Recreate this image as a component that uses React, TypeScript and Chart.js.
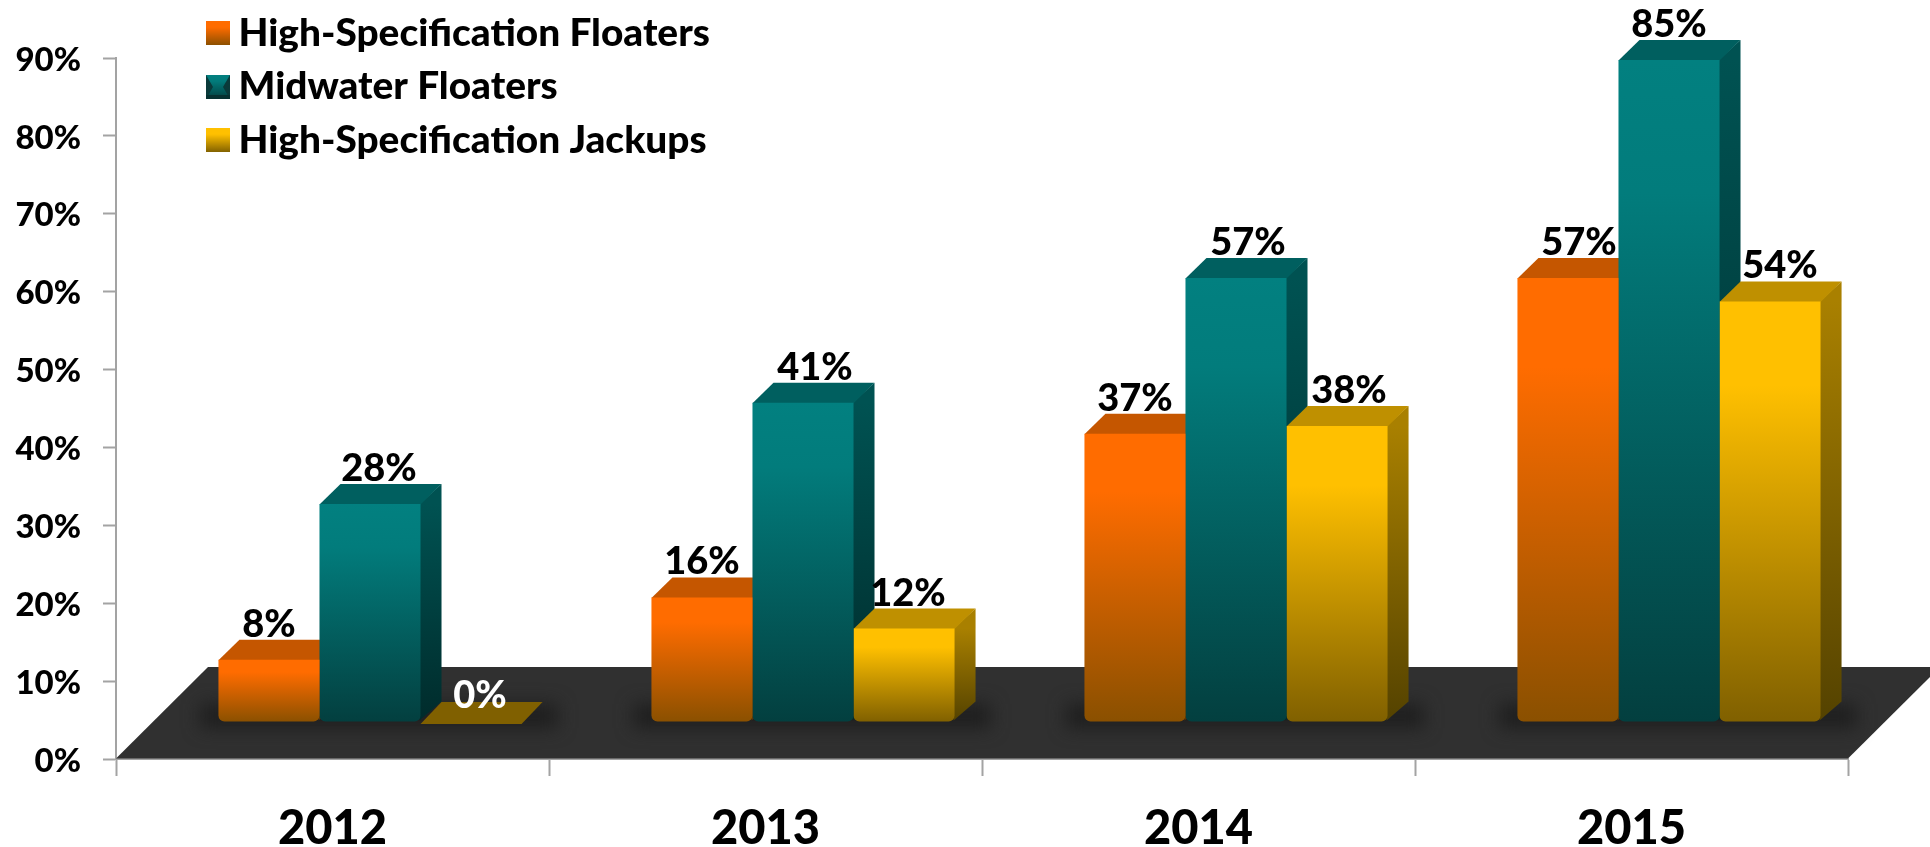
import React, { useEffect, useRef } from "react";
import { Chart, registerables } from "chart.js";

Chart.register(...registerables);

const years = ["2012", "2013", "2014", "2015"];
const highSpecFloaters = [8, 16, 37, 57];
const midwaterFloaters = [28, 41, 57, 85];
const highSpecJackups = [0, 12, 38, 54];
const seriesNames = ["High-Specification Floaters", "Midwater Floaters", "High-Specification Jackups"];
const yTicks = [0, 10, 20, 30, 40, 50, 60, 70, 80, 90];

// style tables
const FONT = "Lato, Carlito, Calibri, sans-serif";
const WEIGHT = 900;
const frontStops = [
  ["#FF6C00", "#FF6C00", "#8A5000"],
  ["#028080", "#027C7C", "#033F3F"],
  ["#FFC000", "#FFC000", "#806000"],
];
const topColors = ["#C55600", "#005F5F", "#BF9000"];
const sideStops = [
  ["#B04E00", "#5F3500"],
  ["#005252", "#002B2B"],
  ["#A98000", "#544200"],
];
const labelNudge = [
  [0, 0, 0, 11],
  [9, 12, 12, 0],
  [9, 4, 12, 10],
];
const BAR_SHIFT_X = 37.5;
const BAR_SHIFT_Y = -37;
const DEPTH_X = 21;
const DEPTH_Y = 20;
const FLOOR_DEPTH = 92;

function swatch(i: number) {
  const c = document.createElement("canvas");
  c.width = 24;
  c.height = 24;
  const g = c.getContext("2d")!;
  const lin = g.createLinearGradient(0, 0, 0, 24);
  lin.addColorStop(0, frontStops[i][0]);
  lin.addColorStop(0.25, frontStops[i][1]);
  lin.addColorStop(1, frontStops[i][2]);
  g.fillStyle = lin;
  g.fillRect(0, 0, 24, 24);
  if (i === 1) {
    g.fillStyle = "#0A3A3A";
    g.beginPath();
    g.moveTo(0, 0);
    g.lineTo(7, 12);
    g.lineTo(0, 24);
    g.closePath();
    g.moveTo(24, 0);
    g.lineTo(17, 12);
    g.lineTo(24, 24);
    g.closePath();
    g.fill();
    g.fillStyle = "#063030";
    g.fillRect(0, 20, 24, 4);
  }
  return c;
}

const floorAndFaces = {
  id: "floorAndFaces",
  beforeDatasetsDraw(chart: any) {
    const { ctx, scales } = chart;
    const x = scales.x;
    const yz = scales.y.getPixelForValue(0);
    ctx.save();
    ctx.fillStyle = "#303030";
    ctx.beginPath();
    ctx.moveTo(x.left, yz - 0.5);
    ctx.lineTo(x.left + FLOOR_DEPTH, yz - FLOOR_DEPTH);
    ctx.lineTo(x.right + FLOOR_DEPTH, yz - FLOOR_DEPTH);
    ctx.lineTo(x.right, yz - 0.5);
    ctx.closePath();
    ctx.fill();
    // soft shadows under each group
    const first = chart.getDatasetMeta(0).data;
    const last = chart.getDatasetMeta(2).data;
    ctx.filter = "blur(9px)";
    ctx.fillStyle = "#1E1E1E";
    first.forEach((el: any, i: number) => {
      const l = el.x - el.width / 2 + BAR_SHIFT_X - 18;
      const r = last[i].x + last[i].width / 2 + BAR_SHIFT_X + 36;
      ctx.fillRect(l, yz + BAR_SHIFT_Y - 18, r - l, 24);
    });
    ctx.filter = "none";
    // side and top faces, painted left to right so each bar overlaps its left neighbour
    ctx.translate(BAR_SHIFT_X, BAR_SHIFT_Y);
    chart.data.datasets.forEach((ds: any, s: number) => {
      chart.getDatasetMeta(s).data.forEach((el: any, i: number) => {
        const v = ds.data[i];
        const x0 = el.x - el.width / 2;
        const x1 = el.x + el.width / 2;
        const yt = el.y;
        const yb = el.base;
        if (v > 0) {
          const g = ctx.createLinearGradient(0, yt, 0, yb);
          g.addColorStop(0, sideStops[s][0]);
          g.addColorStop(1, sideStops[s][1]);
          ctx.fillStyle = g;
          ctx.beginPath();
          ctx.moveTo(x1 - 1, yt);
          ctx.lineTo(x1 + DEPTH_X, yt - DEPTH_Y);
          ctx.lineTo(x1 + DEPTH_X, yb - DEPTH_Y);
          ctx.lineTo(x1 - 1, yb - 1);
          ctx.closePath();
          ctx.fill();
        }
        ctx.fillStyle = v > 0 ? topColors[s] : frontStops[s][2];
        ctx.beginPath();
        ctx.moveTo(x0, yt + (v > 0 ? 0.5 : 2));
        ctx.lineTo(x0 + DEPTH_X, yt - DEPTH_Y);
        ctx.lineTo(x1 + DEPTH_X, yt - DEPTH_Y);
        ctx.lineTo(x1, yt + (v > 0 ? 0.5 : 2));
        ctx.closePath();
        ctx.fill();
      });
    });
    ctx.restore();
  },
  beforeDatasetDraw(chart: any) {
    chart.ctx.save();
    chart.ctx.translate(BAR_SHIFT_X, BAR_SHIFT_Y);
  },
  afterDatasetDraw(chart: any) {
    chart.ctx.restore();
  },
  afterDatasetsDraw(chart: any) {
    const { ctx } = chart;
    ctx.save();
    ctx.font = `${WEIGHT} 38px ${FONT}`;
    ctx.textAlign = "center";
    ctx.textBaseline = "alphabetic";
    chart.data.datasets.forEach((ds: any, s: number) => {
      chart.getDatasetMeta(s).data.forEach((el: any, i: number) => {
        const v = ds.data[i];
        ctx.fillStyle = v === 0 ? "#FFFFFF" : "#000000";
        ctx.fillText(
          `${v}%`,
          el.x + BAR_SHIFT_X + labelNudge[s][i],
          el.y + BAR_SHIFT_Y - DEPTH_Y - (v === 0 ? -6 : 3)
        );
      });
    });
    ctx.restore();
  },
  afterLayout(chart: any) {
    const lg = chart.legend;
    lg.left = 216.9 - lg.options.labels.padding;
    lg.top = 14 - lg.options.labels.padding;
  },
};

export default function App() {
  const ref = useRef<HTMLCanvasElement | null>(null);
  useEffect(() => {
    const swatches = [swatch(0), swatch(1), swatch(2)];
    const barFill = (s: number) => (c: any) => {
      const chart = c.chart;
      const y = chart.scales.y;
      if (!y || c.raw === undefined) return frontStops[s][0];
      const top = y.getPixelForValue(c.raw);
      const bot = y.getPixelForValue(0);
      if (bot - top < 1) return frontStops[s][2];
      const g = chart.ctx.createLinearGradient(0, top, 0, bot);
      g.addColorStop(0, frontStops[s][0]);
      g.addColorStop(0.2, frontStops[s][1]);
      g.addColorStop(1, frontStops[s][2]);
      return g;
    };
    const series = [highSpecFloaters, midwaterFloaters, highSpecJackups];
    const chart = new Chart(ref.current!, {
      type: "bar",
      data: {
        labels: years,
        datasets: series.map((data, s) => ({
          label: seriesNames[s],
          data,
          clip: false as any,
          backgroundColor: barFill(s),
          borderWidth: 0,
          borderSkipped: false,
          borderRadius: { topLeft: 0, topRight: 0, bottomLeft: 6, bottomRight: 6 },
          barPercentage: 1,
          categoryPercentage: 0.7,
        })),
      },
      options: {
        responsive: false,
        animation: false,
        layout: { padding: { top: 58, right: 82, left: 0, bottom: 0 } },
        plugins: {
          tooltip: { enabled: false },
          title: { display: false },
          legend: {
            position: "chartArea",
            align: "start",
            labels: {
              usePointStyle: true,
              pointStyleWidth: 2.2,
              padding: 14.7,
              color: "#000000",
              font: { family: FONT, size: 38.8, weight: WEIGHT },
              generateLabels: () =>
                seriesNames.map((text, i) => ({
                  text,
                  pointStyle: swatches[i],
                  datasetIndex: i,
                  fontColor: "#000000",
                  lineWidth: 0,
                })),
            },
          },
        },
        scales: {
          x: {
            type: "category",
            offset: true,
            afterFit: (a: any) => {
              a.height = 847 - 759;
            },
            border: { color: "#A3A3A3", width: 2 },
            grid: {
              offset: true,
              drawOnChartArea: false,
              drawTicks: true,
              tickLength: 17,
              tickWidth: 2,
              tickColor: "#A3A3A3",
            },
            ticks: {
              color: "#000000",
              padding: 25,
              maxRotation: 0,
              font: { family: FONT, size: 47, weight: WEIGHT },
            },
          },
          y: {
            min: 0,
            max: 90,
            afterFit: (a: any) => {
              a.width = 116;
            },
            afterBuildTicks: (a: any) => {
              a.ticks = yTicks.map((value) => ({ value }));
            },
            border: { color: "#A3A3A3", width: 2 },
            grid: {
              drawOnChartArea: false,
              tickLength: 13,
              tickWidth: 2,
              tickColor: "#A3A3A3",
            },
            ticks: {
              color: "#000000",
              padding: 22,
              labelOffset: 2,
              callback: (v: any) => `${v}%`,
              font: { family: FONT, size: 33, weight: WEIGHT },
            },
          },
        },
      },
      plugins: [floorAndFaces],
    } as any);
    return () => chart.destroy();
  }, []);
  return (
    <div style={{ position: "fixed", left: 0, top: 0, width: 1930, height: 847, background: "#fff" }}>
      <canvas ref={ref} width={1930} height={847} style={{ display: "block" }} />
    </div>
  );
}
